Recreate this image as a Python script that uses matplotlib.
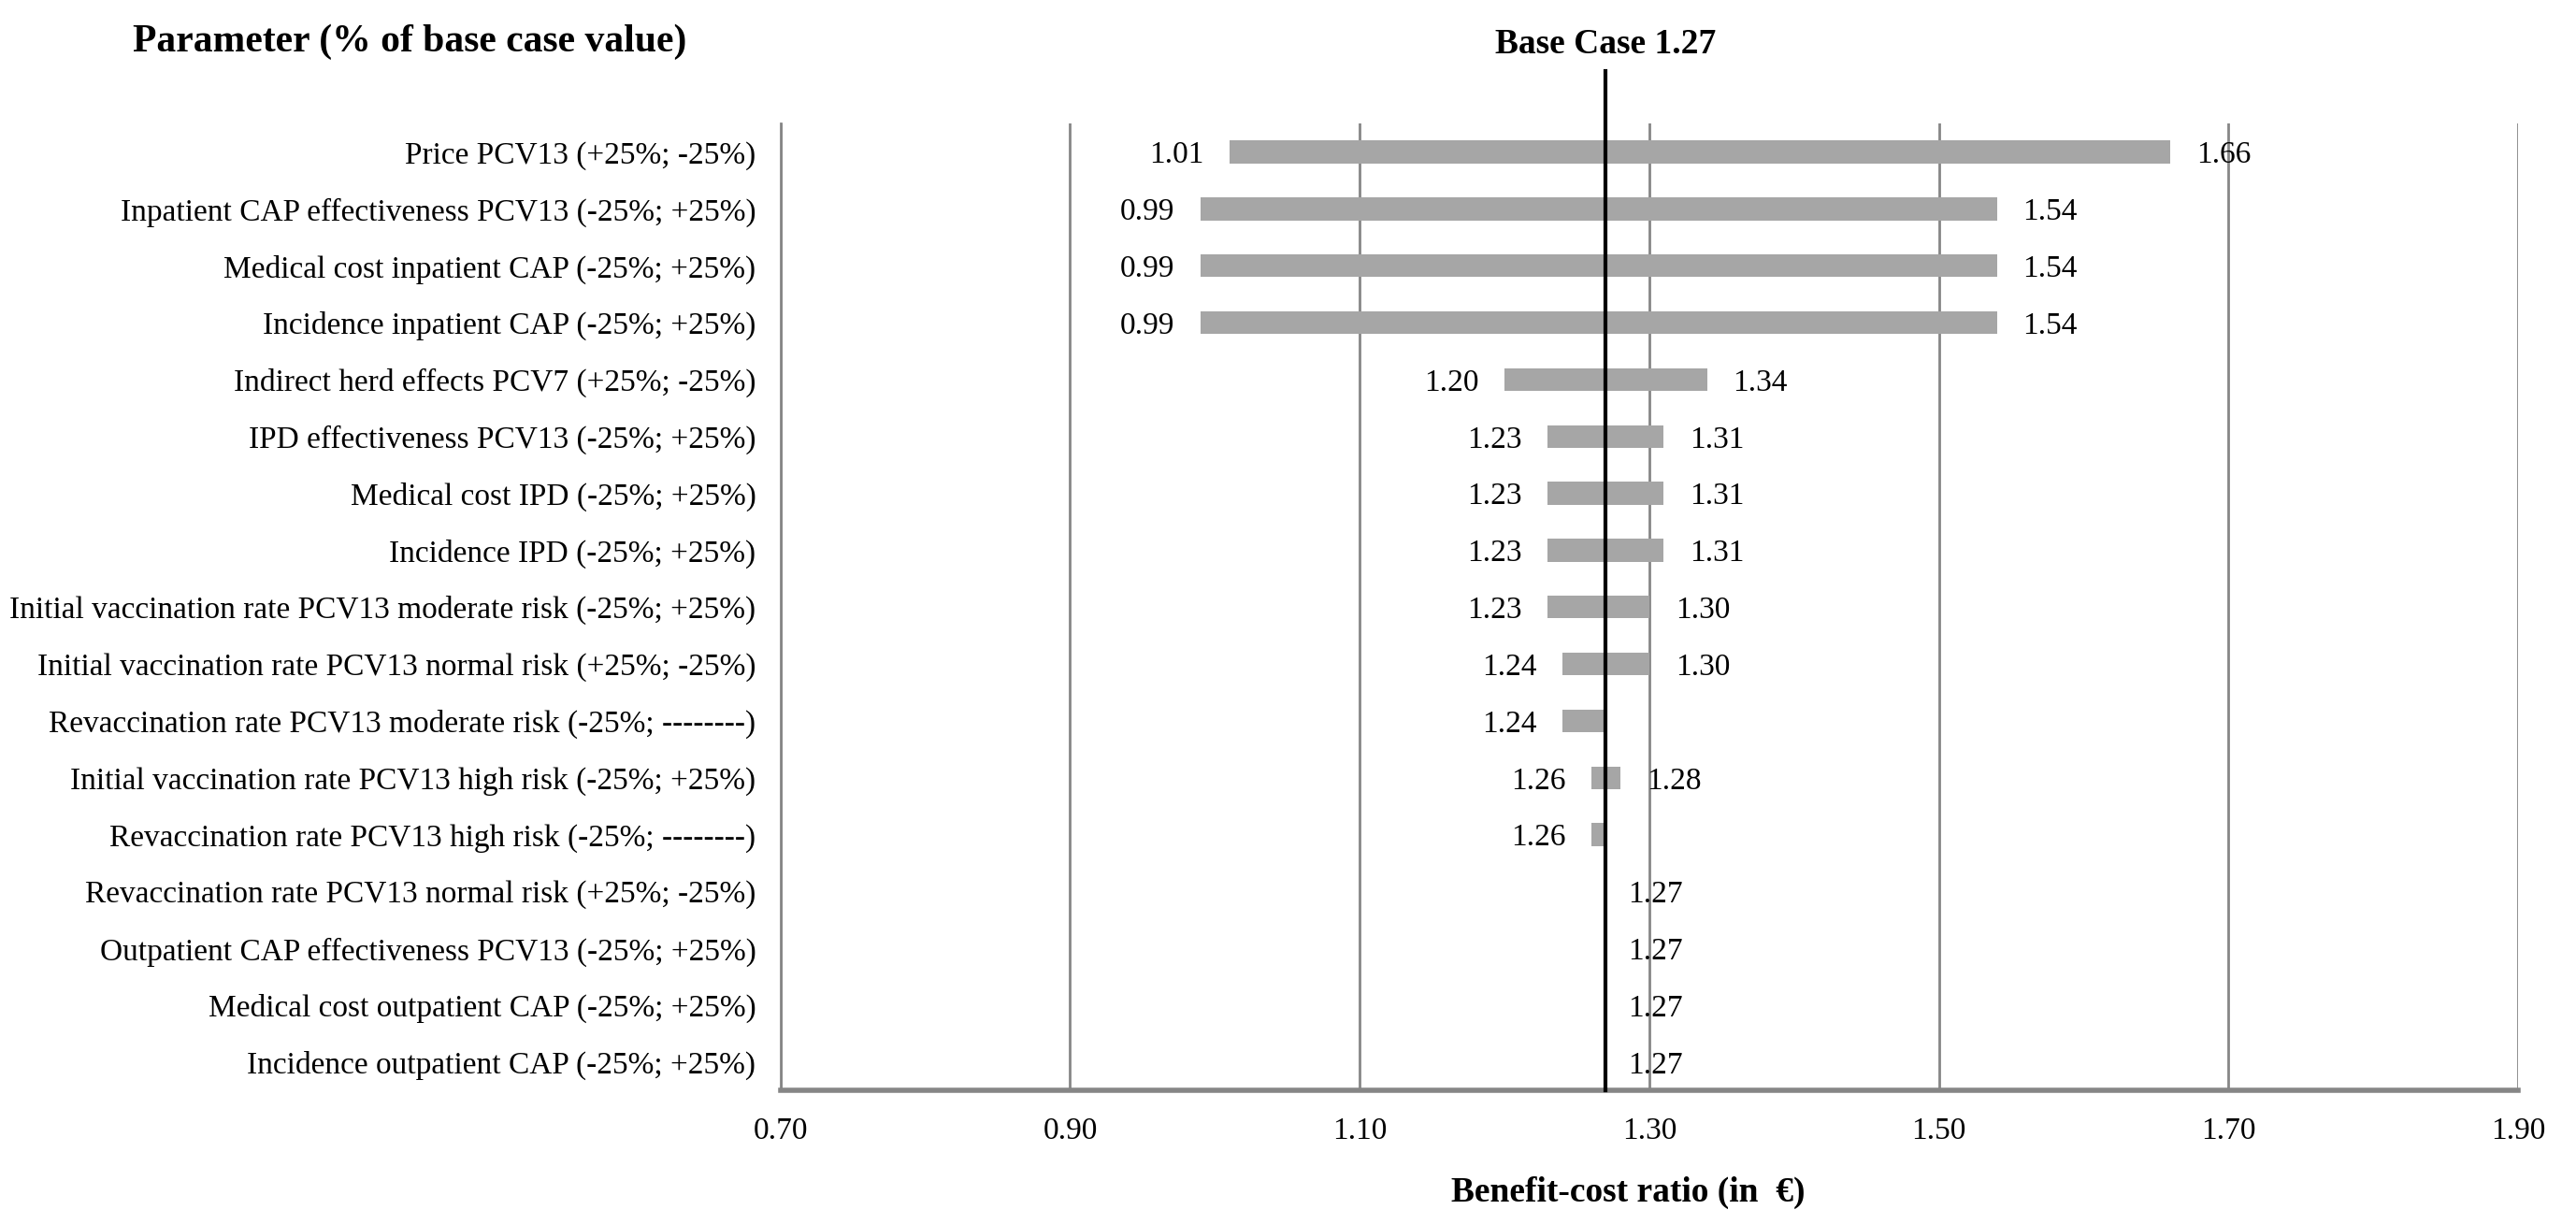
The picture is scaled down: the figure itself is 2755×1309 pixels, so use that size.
import matplotlib
matplotlib.use("Agg")
import matplotlib.pyplot as plt

plt.rcParams['font.family'] = ['Liberation Serif', 'DejaVu Serif']

parameters = [
    "Price PCV13 (+25%; -25%)",
    "Inpatient CAP effectiveness PCV13 (-25%; +25%)",
    "Medical cost inpatient CAP (-25%; +25%)",
    "Incidence inpatient CAP (-25%; +25%)",
    "Indirect herd effects PCV7 (+25%; -25%)",
    "IPD effectiveness PCV13 (-25%; +25%)",
    "Medical cost IPD (-25%; +25%)",
    "Incidence IPD (-25%; +25%)",
    "Initial vaccination rate PCV13 moderate risk (-25%; +25%)",
    "Initial vaccination rate PCV13 normal risk (+25%; -25%)",
    "Revaccination rate PCV13 moderate risk (-25%; --------)",
    "Initial vaccination rate PCV13 high risk (-25%; +25%)",
    "Revaccination rate PCV13 high risk (-25%; --------)",
    "Revaccination rate PCV13 normal risk (+25%; -25%)",
    "Outpatient CAP effectiveness PCV13 (-25%; +25%)",
    "Medical cost outpatient CAP (-25%; +25%)",
    "Incidence outpatient CAP (-25%; +25%)",
]
low_values = [1.01, 0.99, 0.99, 0.99, 1.20, 1.23, 1.23, 1.23, 1.23, 1.24, 1.24,
              1.26, 1.26, 1.27, 1.27, 1.27, 1.27]
high_values = [1.66, 1.54, 1.54, 1.54, 1.34, 1.31, 1.31, 1.31, 1.30, 1.30, 1.27,
               1.28, 1.27, 1.27, 1.27, 1.27, 1.27]
base_case = 1.27
x_ticks = [0.70, 0.90, 1.10, 1.30, 1.50, 1.70, 1.90]

FS = 24
fig = plt.figure(figsize=(27.55, 13.09), dpi=100)
ax = fig.add_axes([0.303, 0.109, 0.6745, 0.790])

n = len(parameters)
ypos = list(range(n))
widths = [h - l for l, h in zip(low_values, high_values)]
ax.barh(ypos, widths, left=low_values, height=0.4, color='#A6A6A6', zorder=2)

for y, l, h in zip(ypos, low_values, high_values):
    if l < base_case:
        ax.annotate(f"{l:.2f}", xy=(l, y), xytext=(-20, 0), textcoords='offset points',
                    ha='right', va='center_baseline', fontsize=FS, zorder=4)
    if h > base_case or (l == base_case and h == base_case):
        ax.annotate(f"{h:.2f}", xy=(h, y), xytext=(17 if h == base_case else 20, 0),
                    textcoords='offset points', ha='left', va='center_baseline',
                    fontsize=FS, zorder=4)

ax.set_xlim(0.70, 1.90)
ax.set_ylim(n - 0.5, -0.5)
ax.set_xticks(x_ticks)
ax.set_xticklabels([f"{t:.2f}" for t in x_ticks], fontsize=FS)
ax.set_yticks(ypos)
ax.set_yticklabels(parameters, fontsize=FS, va='center_baseline')
ax.tick_params(axis='both', length=0)
ax.tick_params(axis='y', pad=19)
ax.tick_params(axis='x', pad=20)

ax.grid(axis='x', color='#868686', linewidth=2, zorder=0)
ax.grid(axis='y', visible=False)
for s in ['top', 'right']:
    ax.spines[s].set_visible(False)
ax.spines['left'].set_color('#868686')
ax.spines['left'].set_linewidth(2)
ax.spines['bottom'].set_color('#868686')
ax.spines['bottom'].set_linewidth(4)

ax.axvline(base_case, ymin=0, ymax=1.054, color='black', linewidth=3, clip_on=False, zorder=3)

fig.text(0.159, 0.966, "Parameter (% of base case value)", fontsize=30, fontweight='bold',
         ha='center', va='center')
ax.text(base_case, 1.082, f"Base Case {base_case:.2f}", transform=ax.get_xaxis_transform(),
        fontsize=27, fontweight='bold', ha='center', va='center')
fig.text(0.632, 0.026, "Benefit-cost ratio (in  \u20ac)", fontsize=27, fontweight='bold',
         ha='center', va='center')

fig.savefig("out.png", dpi=100, facecolor='white')
